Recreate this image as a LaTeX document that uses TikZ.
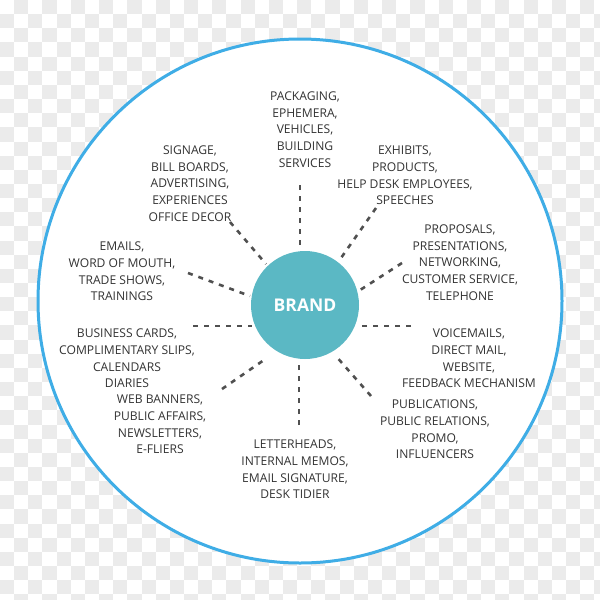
\documentclass[tikz,border=0pt]{standalone}
\usepackage{fontspec}
\setmainfont{Open Sans}
\definecolor{chk}{HTML}{EBEBEB}
\definecolor{ring}{HTML}{3FADE6}
\definecolor{brandfill}{HTML}{5BB8C4}
\definecolor{txt}{HTML}{333333}
\definecolor{dashc}{HTML}{505050}
\begin{document}
\begin{tikzpicture}[x=1pt,y=-1pt,
  lbl/.style={align=center, font=\fontsize{12.1}{16.7}\selectfont, text=txt, inner sep=0pt},
  ray/.style={draw=dashc, line width=2.6pt, dash pattern=on 5pt off 6pt}]
\useasboundingbox (0,0) rectangle (600,600);
\begin{scope}
\clip (0,0) rectangle (600,600);
\fill[white] (0,0) rectangle (600,600);
\foreach \i in {0,...,42}{\foreach \j in {0,...,42}{%
  \pgfmathparse{int(mod(\i+\j,2))}%
  \ifnum\pgfmathresult=1 \fill[chk] (\i*14.15,\j*14.15) rectangle ++(14.15,14.15);\fi}}
\end{scope}
\node[circle, draw=ring, line width=3pt, fill=white, minimum size=524pt, inner sep=0pt] (outer) at (300,301) {};
\node[circle, fill=brandfill, minimum size=108pt, inner sep=0pt, text=white, font=\fontsize{17.5}{19}\selectfont\bfseries] (brand) at (305,305) {BRAND};

\node[lbl] (t1) at (305,129.5) {PACKAGING,\\EPHEMERA,\\VEHICLES,\\BUILDING\\SERVICES};
\node[lbl] (t2) at (190,183.5) {SIGNAGE,\\BILL BOARDS,\\ADVERTISING,\\EXPERIENCES\\OFFICE DECOR};
\node[lbl] (t3) at (405,175.5) {EXHIBITS,\\PRODUCTS,\\HELP DESK EMPLOYEES,\\SPEECHES};
\node[lbl] (t4) at (460,262.5) {PROPOSALS,\\PRESENTATIONS,\\NETWORKING,\\CUSTOMER SERVICE,\\TELEPHONE};
\node[lbl] (t5) at (122,271.5) {EMAILS,\\WORD OF MOUTH,\\TRADE SHOWS,\\TRAININGS};
\node[lbl] (t6) at (127,358.5) {BUSINESS CARDS,\\COMPLIMENTARY SLIPS,\\CALENDARS\\DIARIES};
\node[lbl] (t7) at (160,424.5) {WEB BANNERS,\\PUBLIC AFFAIRS,\\NEWSLETTERS,\\E-FLIERS};
\node[lbl] (t8) at (469,358.5) {VOICEMAILS,\\DIRECT MAIL,\\WEBSITE,\\FEEDBACK MECHANISM};
\node[lbl] (t9) at (435,429.5) {PUBLICATIONS,\\PUBLIC RELATIONS,\\PROMO,\\INFLUENCERS};
\node[lbl] (t10) at (295,469.5) {LETTERHEADS,\\INTERNAL MEMOS,\\EMAIL SIGNATURE,\\DESK TIDIER};

\coordinate (a1) at (300,185);  \coordinate (b1) at (300,247);
\coordinate (a2) at (230,222);  \coordinate (b2) at (266,264);
\coordinate (a3) at (376,208);  \coordinate (b3) at (341,258);
\coordinate (a4) at (402,263);  \coordinate (b4) at (357,292);
\coordinate (a5) at (188,273);  \coordinate (b5) at (250,296);
\coordinate (a6) at (193,326);  \coordinate (b6) at (252,326);
\coordinate (a7) at (222,389);  \coordinate (b7) at (264,360);
\coordinate (a8) at (411,326);  \coordinate (b8) at (357,326);
\coordinate (a9) at (371,396);  \coordinate (b9) at (335,355);
\coordinate (a10) at (299,425); \coordinate (b10) at (299,362);
\foreach \k in {1,...,10}{\draw[ray] (a\k) -- (b\k);}
\end{tikzpicture}
\end{document}
